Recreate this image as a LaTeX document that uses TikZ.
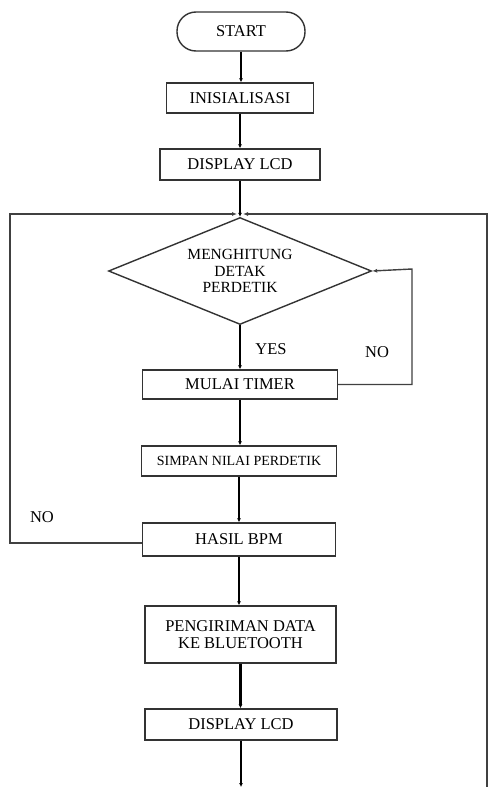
\documentclass[tikz,border=0pt]{standalone}
\usepackage{fontspec}
\setmainfont{Liberation Serif}
\usetikzlibrary{shapes.geometric,arrows.meta}
\begin{document}
\begin{tikzpicture}[x=1pt,y=-1pt,
  box/.style={draw=black!80, line width=1.4pt, rectangle, inner sep=0pt, align=center, font=\fontsize{16.5}{17}\selectfont},
  term/.style={box, rounded corners=19pt},
  dec/.style={draw=black!80, line width=1.4pt, diamond, aspect=2.46, inner sep=0pt, align=center, font=\fontsize{15.5}{16.5}\selectfont},
  flow/.style={draw=black, line width=2.8pt, -{Latex[length=4pt,width=4pt]}},
  back/.style={draw=black!75, line width=1.4pt, -{Latex[length=5pt,width=4pt]}},
  lbl/.style={font=\fontsize{16.5}{17}\selectfont, inner sep=0pt}
]
\useasboundingbox (0,0) rectangle (491,787);
\fill[white] (0,0) rectangle (491,787);

\node[term, minimum width=128pt, minimum height=39pt] (start) at (241,31.5) {START};
\node[box, minimum width=147pt, minimum height=30pt] (init) at (240,98) {INISIALISASI};
\node[box, minimum width=160pt, minimum height=31pt] (disp1) at (240,164.5) {DISPLAY LCD};
\node[dec, minimum width=263pt, minimum height=107pt] (count) at (240,271) {MENGHITUNG\\DETAK\\PERDETIK};
\node[box, minimum width=195pt, minimum height=29pt] (timer) at (240,384.5) {MULAI TIMER};
\node[box, minimum width=195pt, minimum height=30pt, font=\fontsize{14}{15}\selectfont] (save) at (239,461) {SIMPAN NILAI PERDETIK};
\node[box, minimum width=193pt, minimum height=33pt] (bpm) at (239,539.5) {HASIL BPM};
\node[box, minimum width=191pt, minimum height=57pt] (send) at (240.5,634.5) {PENGIRIMAN DATA\\KE BLUETOOTH};
\node[box, minimum width=192pt, minimum height=31pt] (disp2) at (241,724.5) {DISPLAY LCD};

\coordinate (joinL) at (237,214);
\coordinate (joinR) at (243,214);
\coordinate (endMain) at (241,787);
\coordinate (endRight) at (487,787);

\draw[flow] (start.south) -- (start.south |- init.north);
\draw[flow] (init.south) -- (init.south |- disp1.north);
\draw[flow] (disp1.south) -- (disp1.south |- count.north);
\draw[flow] (count.south) -- node[lbl, right=14pt, pos=0.55] (yes) {YES} (count.south |- timer.north);
\draw[flow] (timer.south) -- (timer.south |- save.north);
\draw[flow] (save.south) -- (save.south |- bpm.north);
\draw[flow] (bpm.south) -- (bpm.south |- send.north);
\draw[flow] (send.south) -- (send.south |- disp2.north);
\draw[flow] (disp2.south) -- (endMain);

\draw[back] (timer.east) -- (412,384.5) -- (412,269) -- (count.east);
\node[lbl] (no1) at (377,352) {NO};
\draw[back] (bpm.west |- 0,543) -- (10,543) -- (10,214) -- (joinL);
\node[lbl] (no2) at (42,517) {NO};
\draw[back] (endRight) -- (487,214) -- (joinR);
\end{tikzpicture}
\end{document}
